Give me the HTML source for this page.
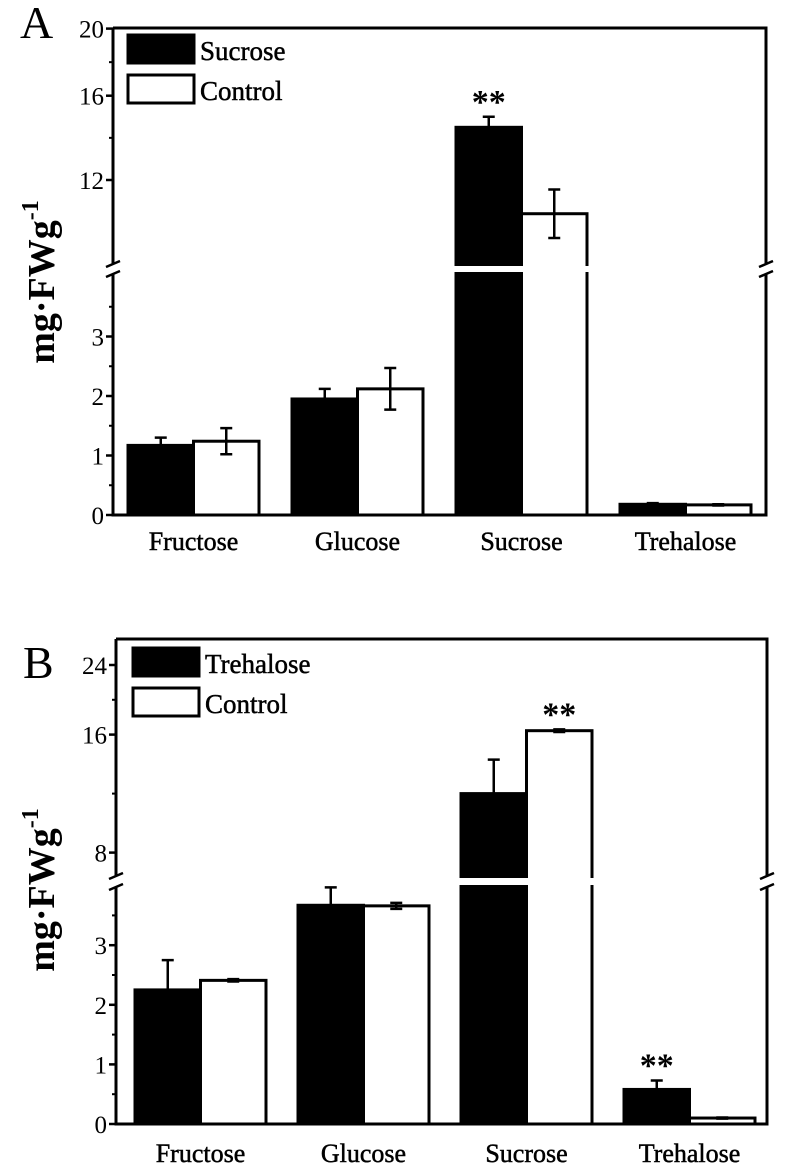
<!DOCTYPE html>
<html><head><meta charset="utf-8"><style>
html,body{margin:0;padding:0;background:#fff;}
svg text{font-family:"Liberation Serif",serif;fill:#000;}
</style></head><body>
<svg id="fig" width="786" height="1164" viewBox="0 0 786 1164" xmlns="http://www.w3.org/2000/svg"></svg>
<script>
const categories = ["Fructose","Glucose","Sucrose","Trehalose"];
// Panel A
const aTreatVals = [1.17, 1.95, 14.5, 0.18];
const aTreatErr  = [0.13, 0.17, 0.5, 0.02];
const aCtrlVals  = [1.24, 2.12, 10.4, 0.17];
const aCtrlErr   = [0.22, 0.35, 1.15, 0.01];
const aSigTreat = ["", "", "**", ""];
const aSigCtrl = ["", "", "", ""];
const aLowTicks = [0,1,2,3];
const aHighTicks = [12,16,20];
// Panel B
const bTreatVals = [2.25, 3.67, 12.0, 0.58];
const bTreatErr  = [0.5, 0.3, 2.3, 0.15];
const bCtrlVals  = [2.41, 3.66, 16.45, 0.1];
const bCtrlErr   = [0.02, 0.05, 0.15, 0.01];
const bSigCtrl = ["", "", "**", ""];
const bSigTreat = ["", "", "", "**"];
const bLowTicks = [0,1,2,3];
const bHighTicks = [8,16,24];

const NS="http://www.w3.org/2000/svg";
const svg=document.getElementById('fig');
function el(tag,attrs,parent){const e=document.createElementNS(NS,tag);for(const k in attrs)e.setAttribute(k,attrs[k]);(parent||svg).appendChild(e);return e;}
function txt(s,x,y,size,anchor,parent){const t=el('text',{x:x,y:y,'font-size':size,'text-anchor':anchor||'middle'},parent);t.textContent=s;return t;}

function drawPanel(P){
  const g=el('g',{});
  
  
  function y(v){
    if(v<=P.lowMax) return P.y0 - v*P.lowScale;
    const ht=P.highTicks, hp=P.highPos;
    if(v<=ht[1]) return hp[0]+(v-ht[0])*(hp[1]-hp[0])/(ht[1]-ht[0]);
    return hp[1]+(v-ht[1])*(hp[2]-hp[1])/(ht[2]-ht[1]);
  }
  for(let i=0;i<categories.length;i++){
    const gx=P.x0+i*P.groupW;
    [[P.treat,P.treatErr,'#000',0,'treatment'],[P.ctrl,P.ctrlErr,'#fff',1,'control']].forEach(([vals,errs,fill,k,nm])=>{
      const v=vals[i], bx=gx+k*P.barW, top=y(v);
      const r=el('rect',{x:bx,y:top,width:P.barW,height:P.y0-top,fill:fill,stroke:'#000','stroke-width':3},g);
      
      
      const cx=bx+P.barW/2, ey1=y(v+errs[i]), ey2=y(Math.max(0,v-errs[i]));
      const e=el('path',{d:`M${cx} ${ey1}V${ey2}M${cx-6} ${ey1}H${cx+6}M${cx-6} ${ey2}H${cx+6}`,stroke:'#000','stroke-width':2.5,fill:'none'},g);
      
      
      const sig=(k===0?P.sigT:P.sigC)[i];
      if(sig){const s=txt(sig,cx,ey1-4,34,'middle',g);s.setAttribute('font-weight','bold');
        
        }
    });
    const cl=txt(categories[i],gx+P.barW,P.catY,26,'middle',g);
    cl.setAttribute('stroke','#000');cl.setAttribute('stroke-width','0.5');
    
    
  }
  el('rect',{x:P.x0+2*P.groupW-3,y:P.brkTop,width:P.barW*2+6,height:P.brkBot-P.brkTop,fill:'#fff'},g);
  const fr=el('path',{d:`M${P.xl} ${P.yt}H${P.xr}V${P.brkTop-2}M${P.xr} ${P.brkBot+2}V${P.y0}H${P.xl}V${P.brkBot+2}M${P.xl} ${P.brkTop-2}V${P.yt}`,stroke:'#000','stroke-width':3,fill:'none'},g);
  
  
  [P.xl,P.xr].forEach(x=>{
    const b=el('path',{d:`M${x-7} ${P.brkTop+1}L${x+7} ${P.brkTop-5}M${x-7} ${P.brkBot+5}L${x+7} ${P.brkBot-1}`,stroke:'#000','stroke-width':2.5,fill:'none'},g);
    
    
  });
  P.lowTicks.forEach(t=>{
    const yy=y(t);
    el('line',{x1:P.xl-7,x2:P.xl,y1:yy,y2:yy,stroke:'#000','stroke-width':2.5},g);
    const ty=y(t+0.5); if(ty>P.brkBot+4) el('line',{x1:P.xl-4,x2:P.xl,y1:ty,y2:ty,stroke:'#000','stroke-width':2},g);
    const l=txt(String(t),P.xl-9,yy+9,25,'end',g);
    
    
  });
  P.highTicks.forEach((t,j)=>{
    const yy=y(t);
    el('line',{x1:P.xl-7,x2:P.xl,y1:yy,y2:yy,stroke:'#000','stroke-width':2.5},g);
    if(j<P.highTicks.length-1){const ty=y((t+P.highTicks[j+1])/2);el('line',{x1:P.xl-4,x2:P.xl,y1:ty,y2:ty,stroke:'#000','stroke-width':2},g);}
    const l=txt(String(t),P.xl-9,yy+9,25,'end',g);
    
    
  });
  const yt=el('text',{x:0,y:0,'font-size':38,'text-anchor':'middle','font-weight':'bold',transform:`translate(${P.ytX},${P.ytY}) rotate(-90)`},g);
  yt.innerHTML='mg·FWg<tspan dy="-16" font-size="24">-1</tspan>';
  
  
  const pl=txt(P.letter,P.letX,P.letY,46,'start',g);
  
  
  const lg=el('g',{},g);
  
  
  el('rect',{x:P.legX,y:P.legY,width:66,height:28,fill:'#000',stroke:'#000','stroke-width':3},lg);
  el('rect',{x:P.legX,y:P.legY+40,width:66,height:28,fill:'#fff',stroke:'#000','stroke-width':3},lg);
  const t1=txt(P.legName,P.legX+72,P.legY+25,27,'start',lg);
  const t2=txt('Control',P.legX+72,P.legY+65,27,'start',lg);
  [t1,t2].forEach(t=>{t.setAttribute('stroke','#000');t.setAttribute('stroke-width','0.5');});
}

drawPanel({name:'panel-a',letter:'A',letX:20,letY:38,treat:aTreatVals,treatErr:aTreatErr,ctrl:aCtrlVals,ctrlErr:aCtrlErr,
  sigT:aSigTreat,sigC:aSigCtrl,lowTicks:aLowTicks,highTicks:aHighTicks,highPos:[180,95.7,28.6],
  y0:515,lowScale:59.5,lowMax:4.2,xl:113,xr:766,yt:28,x0:128,groupW:164,barW:65.5,brkTop:266,brkBot:272,catY:550,
  ytX:54,ytY:282,legX:128,legY:35,legName:'Sucrose'});
drawPanel({name:'panel-b',letter:'B',letX:23,letY:678,treat:bTreatVals,treatErr:bTreatErr,ctrl:bCtrlVals,ctrlErr:bCtrlErr,
  sigT:bSigTreat,sigC:bSigCtrl,lowTicks:bLowTicks,highTicks:bHighTicks,highPos:[852.6,734.6,665],
  y0:1124,lowScale:59.6,lowMax:4.2,xl:116,xr:767,yt:639,x0:135,groupW:163,barW:65.5,brkTop:878,brkBot:885,catY:1162,
  ytX:54,ytY:890,legX:133,legY:648,legName:'Trehalose'});
</script>
</body></html>
